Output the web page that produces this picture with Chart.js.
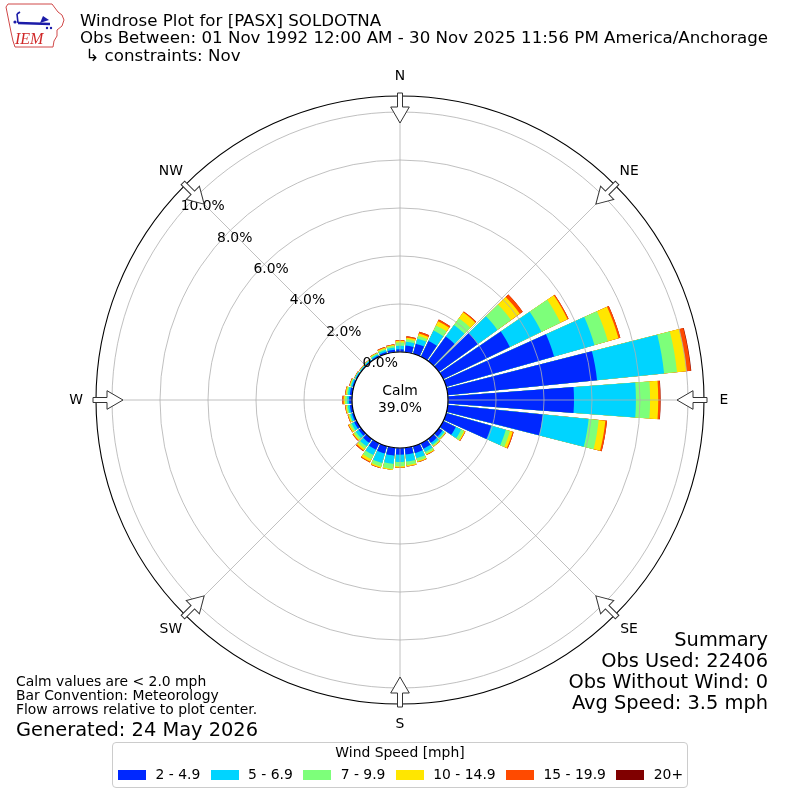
<!DOCTYPE html>
<html>
<head>
<meta charset="utf-8">
<script src="https://cdn.jsdelivr.net/npm/chart.js@4.4.0/dist/chart.umd.min.js"></script>
<style>
  body { margin: 0; background: #fff; }
  #page { position: relative; width: 800px; height: 800px; overflow: hidden;
          font-family: "DejaVu Sans", sans-serif; color: #000; }
  #page canvas { position: absolute; left: 0; top: 0; }
  .t { position: absolute; white-space: pre; line-height: 1; }
  .title { left: 80px; font-size: 16.67px; }
  .note { left: 16px; font-size: 13.9px; }
  .big { font-size: 19.4px; }
  .sum { right: 32px; font-size: 19.4px; text-align: right; }
  #legend { position: absolute; left: 112px; top: 742px; width: 576px; height: 46px;
            box-sizing: border-box; border: 1px solid #cccccc; border-radius: 4px; background: #fff; }
  #legendTitle { position: absolute; left: 0; right: 0; top: 2.5px; text-align: center;
                 font-size: 13.9px; line-height: 1; }
  #legendRow { position: absolute; left: 5px; top: 25px; display: flex; align-items: flex-start;
               font-size: 13.9px; line-height: 1; white-space: pre; }
  .item { display: flex; align-items: flex-start; margin-right: 10.3px; }
  .swatch { width: 28px; height: 9.7px; margin-top: 2.3px; margin-right: 9.5px; }
</style>
</head>
<body>
<div id="page">
  <canvas id="rose" width="800" height="800"></canvas>

  <svg style="position:absolute;left:0;top:0" width="70" height="52">
    <path d="M8 4 L52 4 L55 8 L58 12 L62 15 L64 20 L62 26 L57 30 L57 36 L54 41 L53 47 L15 47 L13 41 L11 32 L9 22 L7 12 L6 7 Z"
          fill="none" stroke="#d04848" stroke-width="1"/>
    <path d="M18 23 L50 24" stroke="#1c1ca8" stroke-width="2.4"/>
    <path d="M18 23 L17 14 M17 14 L20 12" stroke="#1c1ca8" stroke-width="1.6" fill="none"/>
    <path d="M40 23 L43 16 L49 20 Z" fill="#1c1ca8"/>
    <circle cx="15" cy="22" r="1.6" fill="#1c1ca8"/>
    <circle cx="47" cy="28" r="1.2" fill="#1c1ca8"/>
    <circle cx="51" cy="28" r="1.2" fill="#1c1ca8"/>
    <text x="15" y="44" font-family="Liberation Serif" font-style="italic" font-size="16" fill="#d02828">IEM</text>
  </svg>

  <div class="t title" style="top:12.6px">Windrose Plot for [PASX] SOLDOTNA</div>
  <div class="t title" style="top:30.2px">Obs Between: 01 Nov 1992 12:00 AM - 30 Nov 2025 11:56 PM America/Anchorage</div>
  <div class="t title" style="top:47.6px"> ↳ constraints: Nov</div>

  <div class="t note" style="top:674.9px">Calm values are &lt; 2.0 mph</div>
  <div class="t note" style="top:688.7px">Bar Convention: Meteorology</div>
  <div class="t note" style="top:702.5px">Flow arrows relative to plot center.</div>
  <div class="t note big" style="top:719.6px">Generated: 24 May 2026</div>

  <div class="t sum" style="top:630.3px">Summary</div>
  <div class="t sum" style="top:651.3px">Obs Used: 22406</div>
  <div class="t sum" style="top:671.9px">Obs Without Wind: 0</div>
  <div class="t sum" style="top:692.9px">Avg Speed: 3.5 mph</div>

  <div id="legend">
    <div id="legendTitle">Wind Speed [mph]</div>
    <div id="legendRow"></div>
  </div>
</div>

<script>
// wind direction bins (degrees, meteorological: where the wind comes from)
const directions = [0, 10, 20, 30, 40, 50, 60, 70, 80, 90, 100, 110,
                    120, 130, 140, 150, 160, 170, 180, 190, 200, 210, 220, 230,
                    240, 250, 260, 270, 280, 290, 300, 310, 320, 330, 340, 350];

const speedBins = ['2 - 4.9', '5 - 6.9', '7 - 9.9', '10 - 14.9', '15 - 19.9', '20+'];
const binColors = ['#0028ff', '#00d4ff', '#7dff7a', '#ffe600', '#ff4a00', '#800000'];

// frequency (% of all obs) per direction, one array per speed bin
const speed2to5 = [0.11, 0.28, 0.44, 0.73, 1.26, 2.00, 3.08, 4.67, 6.25, 5.25, 3.98, 1.95,
                   0.58, 0.18, 0.20, 0.25, 0.30, 0.28, 0.28, 0.33, 0.32, 0.30, 0.20, 0.13,
                   0.12, 0.08, 0.10, 0.12, 0.10, 0.06, 0.04, 0.03, 0.04, 0.06, 0.08, 0.10];
const speed5to7 = [0.15, 0.16, 0.22, 0.48, 0.59, 1.00, 1.46, 1.75, 2.81, 2.58, 1.92, 0.63,
                   0.25, 0.09, 0.10, 0.15, 0.22, 0.30, 0.30, 0.35, 0.41, 0.25, 0.18, 0.14,
                   0.12, 0.08, 0.08, 0.08, 0.08, 0.06, 0.04, 0.03, 0.04, 0.06, 0.08, 0.10];
const speed7to10 = [0.14, 0.10, 0.12, 0.24, 0.35, 0.70, 0.88, 0.58, 0.54, 0.59, 0.42, 0.18,
                    0.13, 0.05, 0.06, 0.09, 0.12, 0.14, 0.18, 0.21, 0.15, 0.19, 0.12, 0.09,
                    0.08, 0.05, 0.06, 0.09, 0.06, 0.04, 0.02, 0.02, 0.02, 0.04, 0.06, 0.07];
const speed10to15 = [0.07, 0.07, 0.10, 0.19, 0.30, 0.45, 0.33, 0.46, 0.40, 0.34, 0.28, 0.12,
                     0.05, 0.02, 0.03, 0.04, 0.04, 0.05, 0.05, 0.04, 0.06, 0.11, 0.08, 0.05,
                     0.06, 0.04, 0.04, 0.06, 0.04, 0.02, 0.01, 0.01, 0.01, 0.03, 0.04, 0.04];
const speed15to20 = [0.03, 0.06, 0.08, 0.08, 0.05, 0.15, 0.05, 0.08, 0.18, 0.09, 0.07, 0.04,
                     0.02, 0.01, 0.01, 0.02, 0.02, 0.01, 0.01, 0.00, 0.02, 0.04, 0.05, 0.03,
                     0.02, 0.02, 0.02, 0.05, 0.02, 0.02, 0.01, 0.01, 0.01, 0.01, 0.03, 0.02];
const speed20up = [0, 0, 0, 0, 0, 0, 0, 0, 0.02, 0.01, 0, 0,
                   0, 0, 0, 0, 0, 0, 0, 0, 0, 0, 0, 0,
                   0, 0, 0, 0, 0, 0, 0, 0, 0, 0, 0, 0];

const calmPercent = 39.0;
const ringTicks = [0, 2, 4, 6, 8, 10];
const compassLabels = ['N', 'NE', 'E', 'SE', 'S', 'SW', 'W', 'NW'];

// scale: 0% sits on the calm circle, 2% per ring
const rMin = -2;
const rMax = 304 / 24 - 2;
const barAngle = 8.5;
const gapAngle = 10 - barAngle;

const series = [speed2to5, speed5to7, speed7to10, speed10to15, speed15to20, speed20up];

// stacked totals; the smaller stacks sit on top (dataset 0 is drawn last)
const cumulative = series.map((s, i) =>
  directions.map((d, j) => series.slice(0, i + 1).reduce((sum, arr) => sum + arr[j], 0))
);

const labels = directions.flatMap(d => [d + '°', '']);

const font = size => size + 'px "DejaVu Sans", sans-serif';

const roseDecor = {
  id: 'roseDecor',
  afterDatasetsDraw(chart) {
    const s = chart.scales.r;
    const ctx = chart.ctx;
    const r0 = s.getDistanceFromCenterForValue(0);
    const r1 = s.drawingArea;
    ctx.save();
    ctx.strokeStyle = '#b0b0b0';
    ctx.lineWidth = 0.8;
    for (let a = 0; a < 360; a += 45) {
      const t = a * Math.PI / 180;
      ctx.beginPath();
      ctx.moveTo(s.xCenter + r0 * Math.sin(t), s.yCenter - r0 * Math.cos(t));
      ctx.lineTo(s.xCenter + r1 * Math.sin(t), s.yCenter - r1 * Math.cos(t));
      ctx.stroke();
    }
    ctx.restore();
  },
  afterDraw(chart) {
    const s = chart.scales.r;
    const ctx = chart.ctx;
    const cx = s.xCenter, cy = s.yCenter;
    const R = s.drawingArea;
    const r0 = s.getDistanceFromCenterForValue(0);
    ctx.save();

    // outer frame
    ctx.beginPath();
    ctx.arc(cx, cy, R, 0, Math.PI * 2);
    ctx.strokeStyle = '#000';
    ctx.lineWidth = 1.1;
    ctx.stroke();

    // calm disc
    ctx.beginPath();
    ctx.arc(cx, cy, r0, 0, Math.PI * 2);
    ctx.fillStyle = '#fff';
    ctx.fill();
    ctx.lineWidth = 1.2;
    ctx.strokeStyle = '#000';
    ctx.stroke();

    ctx.fillStyle = '#000';
    ctx.font = font(13.9);
    ctx.textAlign = 'center';
    ctx.textBaseline = 'middle';
    ctx.fillText('Calm', cx, cy - 9);
    ctx.fillText(calmPercent.toFixed(1) + '%', cx, cy + 8);

    // ring labels along ~311 deg
    ctx.textAlign = 'left';
    const la = 310.7 * Math.PI / 180;
    ringTicks.forEach(v => {
      const r = s.getDistanceFromCenterForValue(v);
      ctx.fillText(v.toFixed(1) + '%', cx + r * Math.sin(la) - 1, cy - r * Math.cos(la) - 5.5);
    });

    // flow arrows + compass names
    ctx.textAlign = 'center';
    compassLabels.forEach((name, i) => {
      const a = i * 45 * Math.PI / 180;
      ctx.save();
      ctx.translate(cx, cy);
      ctx.rotate(a);
      ctx.beginPath();
      ctx.moveTo(-2.5, -(R + 3));
      ctx.lineTo(2.5, -(R + 3));
      ctx.lineTo(2.5, -(R - 11));
      ctx.lineTo(9.3, -(R - 11));
      ctx.lineTo(0, -(R - 27));
      ctx.lineTo(-9.3, -(R - 11));
      ctx.lineTo(-2.5, -(R - 11));
      ctx.closePath();
      ctx.fillStyle = '#fff';
      ctx.fill();
      ctx.strokeStyle = '#333';
      ctx.lineWidth = 1;
      ctx.stroke();
      ctx.restore();

      ctx.fillStyle = '#000';
      ctx.fillText(name, cx + (R + 20) * Math.sin(a), cy - (R + 20) * Math.cos(a));
    });

    ctx.restore();
  }
};

Chart.defaults.font.family = '"DejaVu Sans", sans-serif';

const roseChart = new Chart(document.getElementById('rose'), {
  type: 'polarArea',
  data: {
    labels: labels,
    datasets: cumulative.map((vals, i) => ({
      label: speedBins[i],
      data: vals.flatMap(v => [v, rMin]),
      backgroundColor: binColors[i],
      borderWidth: 0,
      angle: c => (c.dataIndex % 2 === 0 ? barAngle : gapAngle)
    }))
  },
  options: {
    responsive: false,
    animation: false,
    layout: { padding: 96 },
    plugins: {
      legend: { display: false },
      tooltip: { enabled: false }
    },
    scales: {
      r: {
        min: rMin,
        max: rMax,
        startAngle: -barAngle / 2,
        ticks: { display: false },
        afterBuildTicks: scale => { scale.ticks = ringTicks.map(v => ({ value: v })); },
        grid: { color: '#b0b0b0', lineWidth: 0.8, z: 1 },
        angleLines: { display: false },
        pointLabels: { display: false }
      }
    }
  },
  plugins: [roseDecor]
});

// legend entries
const row = document.getElementById('legendRow');
speedBins.forEach((name, i) => {
  const item = document.createElement('div');
  item.className = 'item';
  const sw = document.createElement('div');
  sw.className = 'swatch';
  sw.style.background = binColors[i];
  const tx = document.createElement('span');
  tx.textContent = name;
  item.appendChild(sw);
  item.appendChild(tx);
  row.appendChild(item);
});
</script>
</body>
</html>
